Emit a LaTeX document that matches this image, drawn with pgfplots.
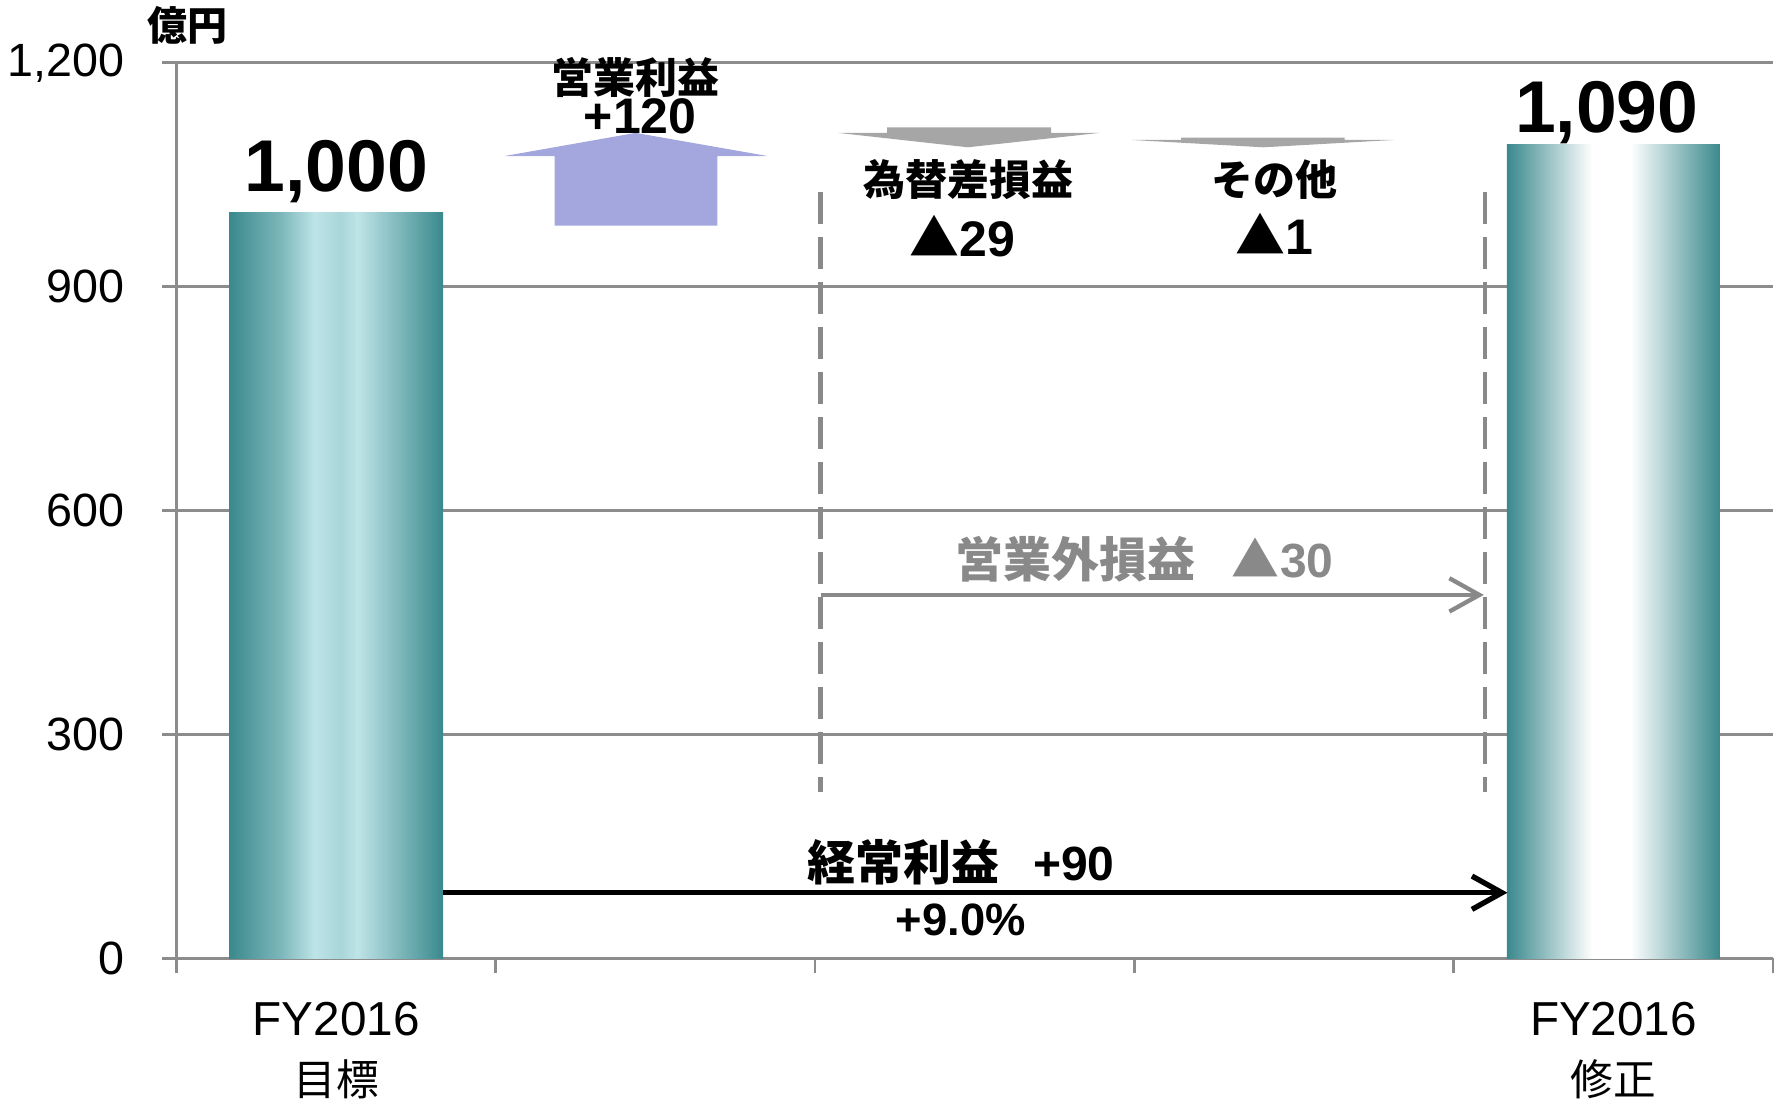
\documentclass[border=0pt]{standalone}
\usepackage{fontspec}
\setmainfont{Liberation Sans}
\newfontfamily\jp{Noto Sans CJK JP}
\usepackage{pgfplots}
\pgfplotsset{compat=1.18}
\usetikzlibrary{arrows.meta}

\definecolor{tealD}{RGB}{58,137,141}
\definecolor{tealL}{RGB}{190,228,231}
\definecolor{tealM}{RGB}{168,214,217}
\definecolor{upC}{RGB}{164,166,222}
\definecolor{dnC}{RGB}{166,166,166}
\definecolor{lineC}{RGB}{137,137,137}
\definecolor{gridC}{RGB}{140,140,140}

% path shadings map the 25bp..75bp band onto the bar
\pgfdeclarehorizontalshading{barA}{100bp}{color(0bp)=(tealD); color(25bp)=(tealD);
  color(37bp)=(tealD!50!tealL); color(45bp)=(tealL); color(51bp)=(tealM);
  color(55bp)=(tealL); color(75bp)=(tealD); color(100bp)=(tealD)}
\pgfdeclarehorizontalshading{barB}{100bp}{color(0bp)=(tealD); color(25bp)=(tealD);
  color(45bp)=(white); color(54bp)=(white); color(75bp)=(tealD); color(100bp)=(tealD)}

\newcommand{\fs}[1]{\fontsize{#1}{#1}\selectfont}

\begin{document}
\begin{tikzpicture}
\begin{axis}[
    at={(0pt,0pt)}, anchor=south west,
    scale only axis, width=479pt, height=268.7pt,
    xmin=-0.5, xmax=4.5, ymin=0, ymax=1200,
    axis x line=bottom, axis y line=left,
    axis line style={-, draw=gridC, line width=0.8pt},
    ytick={0,300,...,1200},
    ymajorgrids, major grid style={draw=gridC, line width=0.8pt},
    xtick={-0.5,0.5,...,4.5}, xticklabels={},
    extra x ticks={0,4},
    extra x tick labels={{FY2016\\{\jp\fontsize{12.8}{18}\selectfont 目標}},{FY2016\\{\jp\fontsize{12.8}{18}\selectfont 修正}}},
    extra x tick style={major tick length=0pt},
    xticklabel style={align=center, font=\fontsize{14.3}{18}\selectfont, yshift=-9.6pt},
    tick align=outside, major tick length=4.3pt,
    tick style={draw=gridC, line width=0.8pt},
    yticklabel style={font=\fs{14}, xshift=-7.9pt, /pgf/number format/1000 sep={,}},
    /pgf/number format/assume math mode=true,
    clip=false,
]
% start and end bars
\addplot[ybar, bar width=0.67, bar shift=0pt, draw=none, shade, shading=barA] coordinates {(0,1000)};
\addplot[ybar, bar width=0.667, bar shift=0pt, draw=none, shade, shading=barB] coordinates {(4,1090)};

% step arrows
\addplot[draw=none, fill=upC] coordinates {(0.684,981.6) (0.684,1075) (0.527,1075) (0.938,1106) (1.351,1075) (1.194,1075) (1.194,981.6)};
\addplot[draw=none, fill=dnC] coordinates {(1.725,1113.4) (2.239,1113.4) (2.239,1106) (2.391,1106) (1.978,1086.7) (1.572,1106) (1.725,1106)};
\addplot[draw=none, fill=dnC] coordinates {(2.646,1099.6) (3.158,1099.6) (3.158,1096.5) (3.311,1096.5) (2.904,1086.7) (2.492,1096.5) (2.646,1096.5)};

% non-operating bracket
\addplot[draw=lineC, line width=1.4pt, dash pattern=on 9.5pt off 4pt] coordinates {(1.517,1027) (1.517,223)};
\addplot[draw=lineC, line width=1.4pt, dash pattern=on 9.5pt off 4pt] coordinates {(3.598,1027) (3.598,223)};
\addplot[draw=lineC, line width=1.3pt, -{Straight Barb[length=9pt,width=10pt]}] coordinates {(1.517,487) (3.594,487)};

% ordinary profit arrow
\addplot[draw=black, line width=1.6pt, -{Straight Barb[length=9pt,width=10pt]}] coordinates {(0.335,88) (3.668,88)};

% labels
\node[font=\jp\bfseries\fs{12}] at (axis cs:-0.464,1250) {億円};
\node[anchor=base, font=\bfseries\fs{22}] at (axis cs:0,1027.5) {1,000};
\node[anchor=base, font=\bfseries\fs{22}] at (axis cs:3.979,1107) {1,090};
\node[font=\jp\bfseries\fs{12.6}] at (axis cs:0.938,1180) {営業利益};
\node[anchor=base, font=\bfseries\fs{15}] at (axis cs:0.952,1105) {+120};
\node[font=\jp\bfseries\fs{12.6}] at (axis cs:1.98,1044) {為替差損益};
\node[anchor=base, font=\bfseries\fs{15}] at (axis cs:1.962,940.5) {{\jp ▲}29};
\node[font=\jp\bfseries\fs{12.6}] at (axis cs:2.937,1044) {その他};
\node[anchor=base, font=\bfseries\fs{15}] at (axis cs:2.937,943.5) {{\jp ▲}1};
\node[anchor=base, text=lineC, font=\bfseries\fs{14.4}] at (axis cs:2.531,510) {{\jp 営業外損益}\hspace{11pt}{\jp ▲}30};
\node[anchor=base, font=\bfseries\fs{14.4}] at (axis cs:1.957,105) {{\jp 経常利益}\hspace{10pt}+90};
\node[anchor=base, font=\bfseries\fs{13.6}] at (axis cs:1.956,31) {+9.0\%};
\end{axis}
\pgfresetboundingbox
\path (-52.95pt,-45.48pt) rectangle (483.15pt,287.52pt);
\end{tikzpicture}
\end{document}
